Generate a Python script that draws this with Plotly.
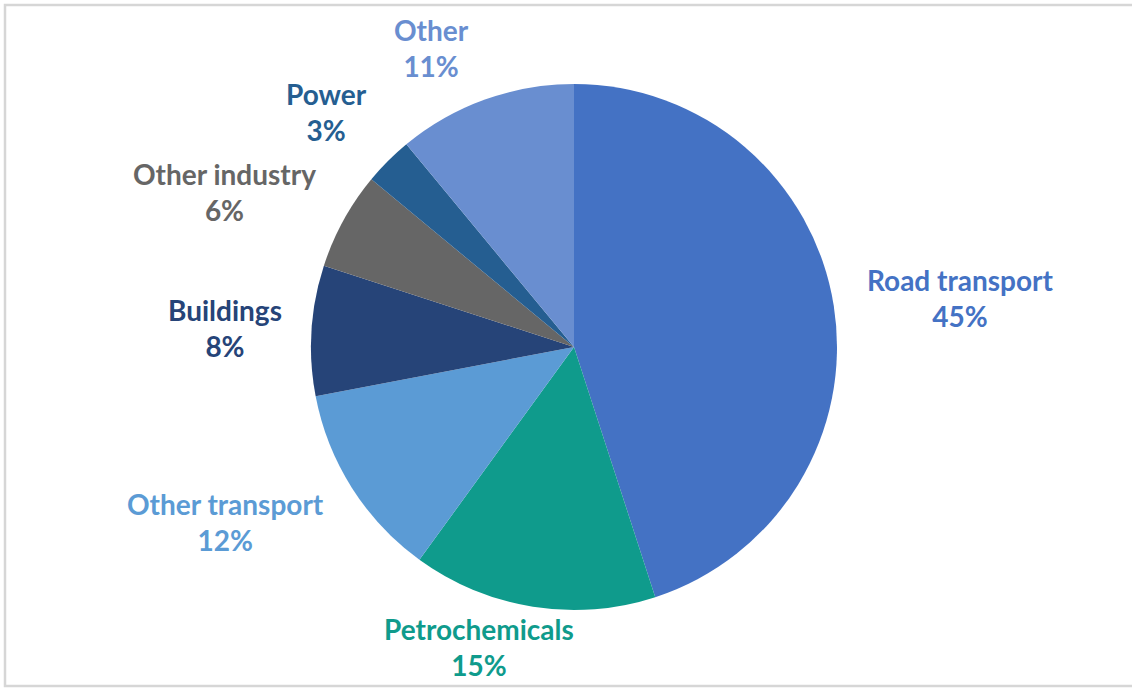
import plotly.graph_objects as go

# Oil demand by sector (share of total, %)
sectors = ["Road transport", "Petrochemicals", "Other transport", "Buildings",
           "Other industry", "Power", "Other"]
shares = [45, 15, 12, 8, 6, 3, 11]
colors = ["#4472C4", "#0F9B8C", "#5B9BD5", "#264478", "#666666", "#255E91", "#698ED0"]

# label block centres in page pixels (x from left, y from top)
label_px = [(960, 298), (479, 647), (225, 522), (225, 328),
            (224, 192), (326, 112), (431, 48)]

W, H = 1132, 688
ml, mr, mt, mb = 5, 0, 5, 2          # plot area doubles as the framed chart area
pw, ph = W - ml - mr, H - mt - mb

# pie placed by its domain: centre (574, 347), radius 263
cx, cy, rad = 574, 347, 263
dom_x = [(cx - rad - ml) / pw, (cx + rad - ml) / pw]
dom_y = [(H - mb - (cy + rad)) / ph, (H - mb - (cy - rad)) / ph]

fig = go.Figure(go.Pie(
    labels=sectors,
    values=shares,
    sort=False,
    direction="clockwise",
    rotation=0,
    domain=dict(x=dom_x, y=dom_y),
    marker=dict(colors=colors, line=dict(width=0)),
    textinfo="none",
    hoverinfo="label+percent",
    showlegend=False,
))

for name, val, col, (px, py) in zip(sectors, shares, colors, label_px):
    fig.add_annotation(
        xref="paper", yref="paper",
        x=(px - ml) / pw, y=(H - mb - py) / ph,
        xanchor="center", yanchor="middle",
        text=f"<b>{name}</b><br><b>{val}%</b>",
        showarrow=False,
        font=dict(family="Lato", size=28, color=col),
        align="center",
    )

# light frame around the chart area
fig.add_shape(type="rect", xref="paper", yref="paper",
              x0=0, x1=1.02, y0=0, y1=1,
              line=dict(color="#D6D6D6", width=2.5), layer="below")

fig.update_layout(
    width=W, height=H,
    margin=dict(l=ml, r=mr, t=mt, b=mb),
    paper_bgcolor="white",
    plot_bgcolor="white",
)
fig.write_html("out.html")
